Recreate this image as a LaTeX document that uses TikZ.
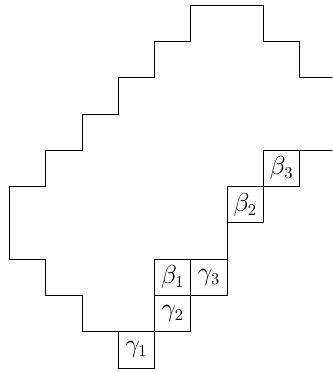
\documentclass[tikz,border=0pt]{standalone}
\begin{document}
\begin{tikzpicture}[x=0.85cm,y=-0.85cm,line width=0.5pt,
  lab/.style={inner sep=0pt,font=\fontsize{16}{18}\selectfont}]
\useasboundingbox (-0.257,-0.138) rectangle (8.902,10.11);
\clip (-0.257,-0.138) rectangle (8.902,10.11);
% outer upper staircase
\draw (9,2) -- (8,2) -- (8,1) -- (7,1) -- (7,0) -- (5,0) -- (5,1) -- (4,1) -- (4,2) -- (3,2) -- (3,3) -- (2,3) -- (2,4) -- (1,4) -- (1,5) -- (0,5) -- (0,7) -- (1,7) -- (1,8) -- (2,8) -- (2,9) -- (5,9);
% boxes
\draw (3,9) -- (3,10) -- (4,10) -- (4,7) -- (6,7) -- (6,5) -- (8,5) -- (8,4);
\draw (7,4) -- (9,4);
\draw (7,4) -- (7,6) -- (6,6);
\draw (4,8) -- (6,8) -- (6,7);
\draw (5,7) -- (5,9);
\node[lab] (g1) at (3.5,9.5) {$\gamma_1$};
\node[lab] (g2) at (4.5,8.5) {$\gamma_2$};
\node[lab] (b1) at (4.5,7.5) {$\beta_1$};
\node[lab] (g3) at (5.5,7.5) {$\gamma_3$};
\node[lab] (b2) at (6.5,5.5) {$\beta_2$};
\node[lab] (b3) at (7.5,4.5) {$\beta_3$};
\end{tikzpicture}
\end{document}
